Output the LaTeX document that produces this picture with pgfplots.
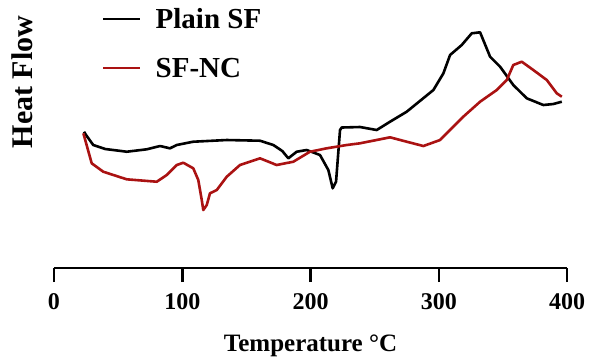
\documentclass[border=0pt]{standalone}
\usepackage{pgfplots}
\pgfplotsset{compat=1.18}
\usepackage{fontspec}
\setmainfont{Liberation Serif}
\definecolor{sfred}{RGB}{170,18,18}
\begin{document}
\begin{tikzpicture}
\begin{axis}[
  scale only axis, width=513pt, height=248pt,
  xmin=0, xmax=400, ymin=-268, ymax=-20,
  axis x line*=bottom, axis y line=none,
  axis line style={line width=2.5pt,-},
  xtick={0,100,200,300,400}, ytick=\empty,
  tick align=outside, major tick length=14pt,
  every tick/.style={line width=2.5pt,black},
  /pgf/number format/assume math mode=true,
  tick label style={font=\fontsize{24}{28}\selectfont\bfseries},
  xticklabel style={yshift=-8pt},
  xlabel={Temperature °C},
  xlabel style={font=\fontsize{25}{30}\selectfont\bfseries, yshift=-18pt},
  clip=false,
  legend style={draw=none, fill=none, at={(axis cs:35,-4)}, anchor=north west,
    font=\fontsize{29}{34}\selectfont\bfseries, row sep=24pt},
  legend cell align=left,
  legend image code/.code={\draw[#1] (0pt,0pt) -- (37pt,0pt); \path (49pt,0pt);},
]
\addplot[black, line width=2.6pt, line join=round] table {
23.4 -131.7
25 -135
30.6 -145
40 -149
56.7 -151.7
72.3 -149.3
82.7 -146
90.4 -148.3
95.7 -145
108.6 -141.7
134.7 -140
160.6 -140.7
171 -145
178 -151
182.7 -158.3
189.2 -151.7
197 -150
207.4 -155
213.9 -170
217.3 -188.3
219.9 -181.7
223 -130
224.3 -127.5
238.6 -127
251.6 -130
262 -121.7
275 -111.7
295.8 -90
303.6 -73.3
308.8 -55
317.9 -45
325.7 -33.3
332.2 -32.3
340 -56.7
347.8 -66.7
358.1 -85
368.6 -98.3
381.5 -105
389.3 -104
395.9 -101.7
};
\addlegendentry{Plain SF}
\addplot[sfred, line width=2.6pt, line join=round] table {
22.9 -133.3
29.4 -163.3
38.4 -171.7
56.7 -179.3
80.1 -181.7
87.9 -175
95.7 -165
100.8 -162.7
108.6 -168.3
112.5 -180
115.2 -200
116.4 -210
119.1 -205
121.6 -193.3
126.9 -190
134.7 -176.7
145 -165
160.6 -158.3
173.6 -165
186.6 -161.7
199.6 -151.7
212.6 -148.3
228.2 -145
238.6 -143.3
262 -137.3
275 -141.7
288 -146
301 -140
319.1 -116.7
332.2 -101.7
345.2 -90
353 -80
358.1 -65
364.7 -61.7
373.7 -70
384.2 -80
392 -93.3
395.9 -96.7
};
\addlegendentry{SF-NC}
\node[rotate=90, font=\fontsize{30}{36}\selectfont\bfseries] at (axis cs:-25,-82) {Heat Flow};
\path (axis cs:-42.1,0) rectangle (axis cs:417.9,-360);
\end{axis}
\end{tikzpicture}
\end{document}
